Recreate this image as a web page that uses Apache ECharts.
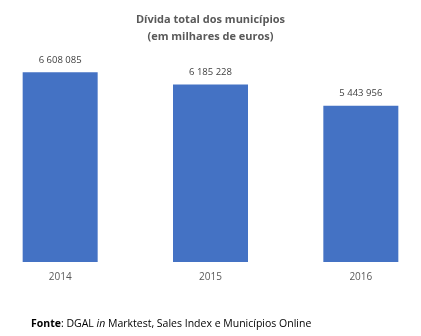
<!DOCTYPE html>
<html><head><meta charset="utf-8">
<script src="https://cdn.jsdelivr.net/npm/echarts@6/dist/echarts.min.js"></script>
<style>html,body{margin:0;padding:0;background:#fff}#c{width:421px;height:336px}</style>
</head><body><div id="c"></div>
<script>
const categories = ['2014', '2015', '2016'];
const debtValues = [6608085, 6185228, 5443956];
const titleLines = ['Dívida total dos municípios', '(em milhares de euros)'];

const fmt = v => String(v).replace(/\B(?=(\d{3})+(?!\d))/g, ' ');
const chart = echarts.init(document.getElementById('c'), null, {renderer: 'canvas'});
chart.setOption({
  animation: false,
  backgroundColor: '#fff',
  title: {
    text: titleLines.join('\n'),
    left: 'center', top: 7,
    textStyle: {fontFamily: 'Open Sans', fontSize: 11, fontWeight: 'bold', color: '#595959', lineHeight: 16.5}
  },
  grid: {left: -15, width: 451, top: 61, bottom: 74, containLabel: false, outerBoundsMode: 'none'},
  xAxis: {
    type: 'category', data: categories,
    axisLine: {show: false}, axisTick: {show: false},
    axisLabel: {color: '#595959', fontFamily: 'Open Sans', fontSize: 10, margin: 10}
  },
  yAxis: {type: 'value', min: 0, max: 7000000, show: false, splitLine: {show: false}},
  series: [{
    type: 'bar', data: debtValues, barWidth: 75,
    itemStyle: {color: '#4472C4'},
    label: {show: true, position: 'top', distance: 7, formatter: p => fmt(p.value),
      color: '#404040', fontFamily: 'Open Sans', fontSize: 9.5}
  }],
  graphic: [{
    type: 'text', left: 31, top: 319,
    style: {
      text: '{b|Fonte}: DGAL {i|in} Marktest, Sales Index e Municípios Online',
      fontFamily: 'Open Sans', fontSize: 10.5, fill: '#000',
      rich: {b: {fontWeight: 'bold', fontFamily: 'Open Sans', fontSize: 10.5}, i: {fontStyle: 'italic', fontFamily: 'Open Sans', fontSize: 10.5}}
    }
  }]
});
</script></body></html>
